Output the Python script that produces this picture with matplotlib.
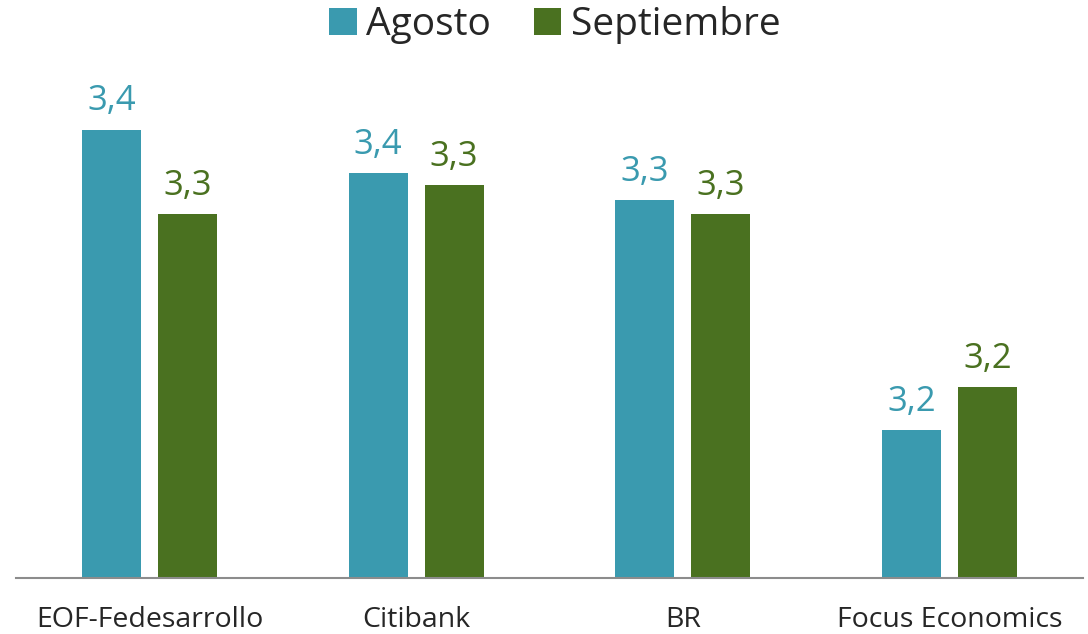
import matplotlib.pyplot as plt
import numpy as np

categories = ["EOF-Fedesarrollo", "Citibank", "BR", "Focus Economics"]
agosto = [3.381, 3.354, 3.337, 3.193]
septiembre = [3.328, 3.346, 3.328, 3.220]
series_names = ["Agosto", "Septiembre"]

teal = "#3A9AAF"
green = "#4A7120"

plt.rcParams['font.family'] = ['Open Sans', 'DejaVu Sans']

fig = plt.figure(figsize=(10.88, 6.34), dpi=100)
ax = fig.add_axes([0.015, 0.088, 0.98, 0.7555])

x = np.arange(len(categories))
w = 0.221
off = 0.1426

b1 = ax.bar(x - off, agosto, w, color=teal, label=series_names[0])
b2 = ax.bar(x + off, septiembre, w, color=green, label=series_names[1])

ax.set_ylim(3.1, 3.4)
ax.set_xlim(-0.5, 3.5)

# value labels with comma decimal
for bars, vals, c in [(b1, agosto, teal), (b2, septiembre, green)]:
    for b, v in zip(bars, vals):
        ax.annotate(f"{v:.1f}".replace(".", ","),
                    (b.get_x() + b.get_width() / 2, v),
                    xytext=(0, 8), textcoords="offset points",
                    ha="center", va="bottom", fontsize=25, color=c)

ax.set_xticks(x)
ax.set_xticklabels(categories, fontsize=20.5, color="#262626")
ax.tick_params(axis="x", length=0, pad=20)
ax.set_yticks([])
for s in ["top", "right", "left"]:
    ax.spines[s].set_visible(False)
ax.spines["bottom"].set_color("#8c8c8c")
ax.spines["bottom"].set_linewidth(1.5)

fig.legend(loc="upper center", bbox_to_anchor=(0.51, 1.045), ncol=2,
           frameon=False, fontsize=28, handlelength=0.7, handleheight=0.7,
           handletextpad=0.25, columnspacing=1.1, labelcolor="#262626")

fig.savefig("out.png", dpi=100)
